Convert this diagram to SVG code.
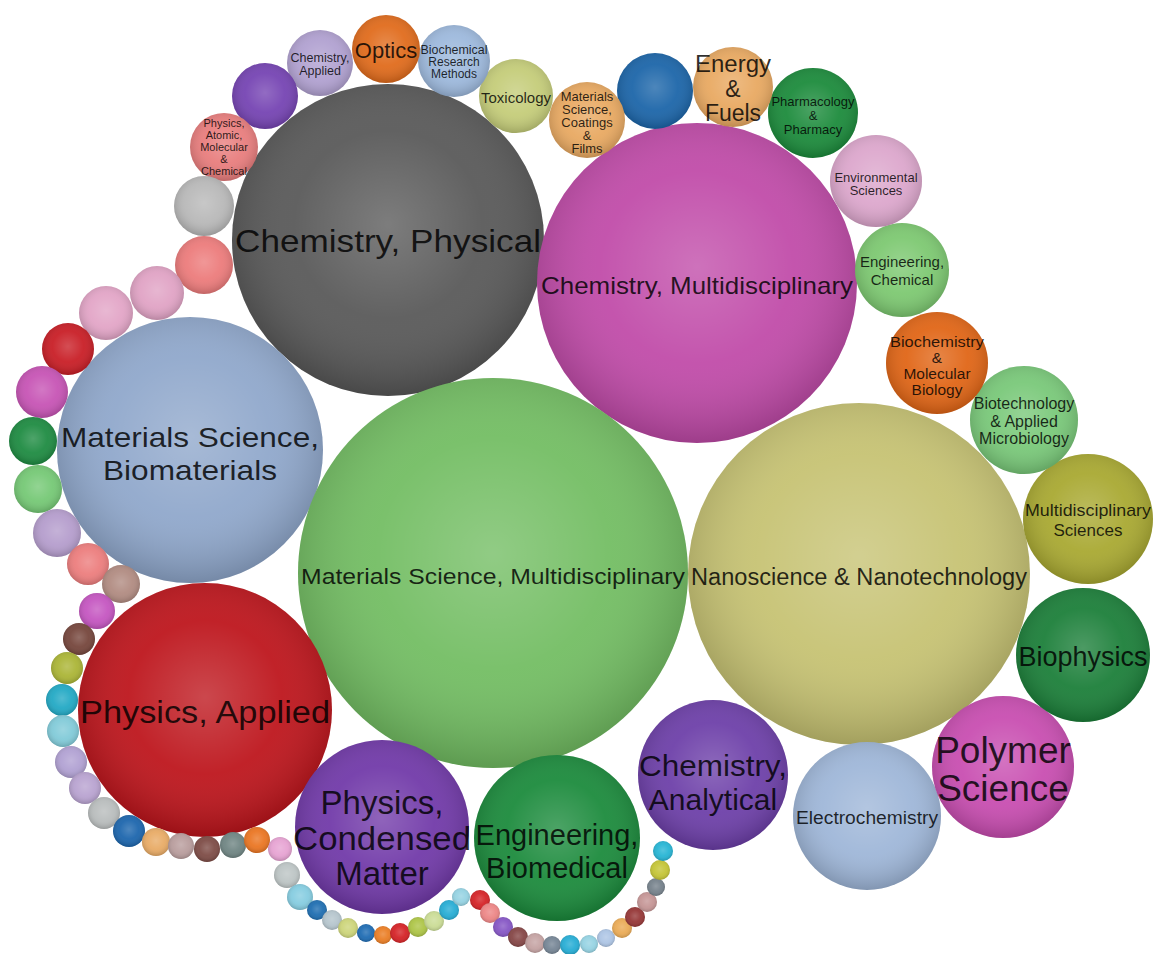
<svg xmlns="http://www.w3.org/2000/svg" width="1154" height="954" viewBox="0 0 1154 954">
<defs>
<radialGradient id="shade" cx="50%" cy="45%" r="55%">
<stop offset="0" stop-color="#ffffff" stop-opacity="0.22"/>
<stop offset="0.55" stop-color="#ffffff" stop-opacity="0.06"/>
<stop offset="1" stop-color="#000000" stop-opacity="0.18"/>
</radialGradient>
</defs>
<style>
.s{fill:url(#shade)}
text{font-family:"Liberation Sans",Arial,sans-serif;fill:#000;fill-opacity:0.82;text-anchor:middle}
</style>
<rect width="1154" height="954" fill="#ffffff"/>
<g id="bubbles">
<g id="n-chem-phys"><circle cx="388" cy="240" r="156" fill="#585858"/><circle cx="388" cy="240" r="156" class="s"/><text x="388" y="252" font-size="32" textLength="306" lengthAdjust="spacingAndGlyphs">Chemistry, Physical</text></g>
<g id="n-chem-multi"><circle cx="697" cy="283" r="160" fill="#c04aa8"/><circle cx="697" cy="283" r="160" class="s"/><text x="697" y="294" font-size="24" textLength="312" lengthAdjust="spacingAndGlyphs">Chemistry, Multidisciplinary</text></g>
<g id="n-mat-bio"><circle cx="190" cy="450" r="133" fill="#8fa7cb"/><circle cx="190" cy="450" r="133" class="s"/><text font-size="28"><tspan x="190" y="447" textLength="258" lengthAdjust="spacingAndGlyphs">Materials Science,</tspan><tspan x="190" y="480" textLength="174" lengthAdjust="spacingAndGlyphs">Biomaterials</tspan></text></g>
<g id="n-mat-multi"><circle cx="493" cy="573" r="195" fill="#72bd62"/><circle cx="493" cy="573" r="195" class="s"/><text x="493" y="584" font-size="22" textLength="384" lengthAdjust="spacingAndGlyphs">Materials Science, Multidisciplinary</text></g>
<g id="n-nano"><circle cx="859" cy="574" r="171" fill="#c6c272"/><circle cx="859" cy="574" r="171" class="s"/><text x="859" y="585" font-size="23" textLength="336" lengthAdjust="spacingAndGlyphs">Nanoscience &amp; Nanotechnology</text></g>
<g id="n-phys-app"><circle cx="205" cy="710" r="127" fill="#bd141b"/><circle cx="205" cy="710" r="127" class="s"/><text x="205" y="723" font-size="31" textLength="250" lengthAdjust="spacingAndGlyphs">Physics, Applied</text></g>
<g id="n-phys-cond"><circle cx="382" cy="827" r="87" fill="#7038a8"/><circle cx="382" cy="827" r="87" class="s"/><text font-size="33"><tspan x="382" y="814">Physics,</tspan><tspan x="382" y="850" textLength="178" lengthAdjust="spacingAndGlyphs">Condensed</tspan><tspan x="382" y="885">Matter</tspan></text></g>
<g id="n-eng-bio"><circle cx="557" cy="838" r="83" fill="#1a8a3b"/><circle cx="557" cy="838" r="83" class="s"/><text font-size="29"><tspan x="557" y="845">Engineering,</tspan><tspan x="557" y="878">Biomedical</tspan></text></g>
<g id="n-chem-anal"><circle cx="713" cy="775" r="75" fill="#6c3ea8"/><circle cx="713" cy="775" r="75" class="s"/><text font-size="30"><tspan x="713" y="776" textLength="148" lengthAdjust="spacingAndGlyphs">Chemistry,</tspan><tspan x="713" y="810">Analytical</tspan></text></g>
<g id="n-electro"><circle cx="867" cy="816" r="74" fill="#9eb6d8"/><circle cx="867" cy="816" r="74" class="s"/><text x="867" y="824" font-size="18" textLength="142" lengthAdjust="spacingAndGlyphs">Electrochemistry</text></g>
<g id="n-polymer"><circle cx="1003" cy="767" r="71" fill="#c84cb0"/><circle cx="1003" cy="767" r="71" class="s"/><text font-size="37"><tspan x="1003" y="763">Polymer</tspan><tspan x="1003" y="801">Science</tspan></text></g>
<g id="n-biophys"><circle cx="1083" cy="655" r="67" fill="#1a7e38"/><circle cx="1083" cy="655" r="67" class="s"/><text x="1083" y="666" font-size="27">Biophysics</text></g>
<g id="n-multi-sci"><circle cx="1088" cy="519" r="65" fill="#a8a830"/><circle cx="1088" cy="519" r="65" class="s"/><text font-size="17"><tspan x="1088" y="516" textLength="126" lengthAdjust="spacingAndGlyphs">Multidisciplinary</tspan><tspan x="1088" y="536">Sciences</tspan></text></g>
<g id="n-biotech"><circle cx="1024" cy="420" r="54" fill="#78c878"/><circle cx="1024" cy="420" r="54" class="s"/><text font-size="16"><tspan x="1024" y="409">Biotechnology</tspan><tspan x="1024" y="427">&amp; Applied</tspan><tspan x="1024" y="444">Microbiology</tspan></text></g>
<g id="n-biochem"><circle cx="937" cy="363" r="51" fill="#e06414"/><circle cx="937" cy="363" r="51" class="s"/><text font-size="15.5"><tspan x="937" y="347" textLength="94" lengthAdjust="spacingAndGlyphs">Biochemistry</tspan><tspan x="937" y="363">&amp;</tspan><tspan x="937" y="379">Molecular</tspan><tspan x="937" y="395">Biology</tspan></text></g>
<g id="n-eng-chem"><circle cx="902" cy="270" r="47" fill="#7cc870"/><circle cx="902" cy="270" r="47" class="s"/><text font-size="15"><tspan x="902" y="267">Engineering,</tspan><tspan x="902" y="285">Chemical</tspan></text></g>
<g id="n-env"><circle cx="876" cy="181" r="46" fill="#dca6cc"/><circle cx="876" cy="181" r="46" class="s"/><text font-size="13"><tspan x="876" y="182">Environmental</tspan><tspan x="876" y="195">Sciences</tspan></text></g>
<g id="n-pharm"><circle cx="813" cy="113" r="45" fill="#1a8a3a"/><circle cx="813" cy="113" r="45" class="s"/><text font-size="13"><tspan x="813" y="106">Pharmacology</tspan><tspan x="813" y="120">&amp;</tspan><tspan x="813" y="134">Pharmacy</tspan></text></g>
<g id="n-energy"><circle cx="733" cy="87" r="40" fill="#e8a860"/><circle cx="733" cy="87" r="40" class="s"/><text font-size="23"><tspan x="733" y="72" textLength="76" lengthAdjust="spacingAndGlyphs">Energy</tspan><tspan x="733" y="97">&amp;</tspan><tspan x="733" y="121">Fuels</tspan></text></g>
<g id="n-blue-top"><circle cx="655" cy="91" r="38" fill="#1a64a8"/><circle cx="655" cy="91" r="38" class="s"/></g>
<g id="n-coatings"><circle cx="587" cy="120" r="38" fill="#e8a860"/><circle cx="587" cy="120" r="38" class="s"/><text font-size="13"><tspan x="587" y="101">Materials</tspan><tspan x="587" y="114">Science,</tspan><tspan x="587" y="127">Coatings</tspan><tspan x="587" y="140">&amp;</tspan><tspan x="587" y="153">Films</tspan></text></g>
<g id="n-tox"><circle cx="516" cy="96" r="37" fill="#c4cc78"/><circle cx="516" cy="96" r="37" class="s"/><text x="516" y="103" font-size="15">Toxicology</text></g>
<g id="n-biochem-res"><circle cx="454" cy="61" r="36" fill="#9cb8dc"/><circle cx="454" cy="61" r="36" class="s"/><text font-size="12"><tspan x="454" y="54" textLength="67" lengthAdjust="spacingAndGlyphs">Biochemical</tspan><tspan x="454" y="66">Research</tspan><tspan x="454" y="78">Methods</tspan></text></g>
<g id="n-optics"><circle cx="386" cy="49" r="34" fill="#e06a1a"/><circle cx="386" cy="49" r="34" class="s"/><text x="386" y="58" font-size="22">Optics</text></g>
<g id="n-chem-app"><circle cx="320" cy="63" r="33" fill="#b0a0d0"/><circle cx="320" cy="63" r="33" class="s"/><text font-size="12.5"><tspan x="320" y="62">Chemistry,</tspan><tspan x="320" y="75">Applied</tspan></text></g>
<g id="n-purple-top"><circle cx="265" cy="96" r="33" fill="#7442b2"/><circle cx="265" cy="96" r="33" class="s"/></g>
<g id="n-phys-atomic"><circle cx="224" cy="147" r="34" fill="#e87c7c"/><circle cx="224" cy="147" r="34" class="s"/><text font-size="11"><tspan x="224" y="127">Physics,</tspan><tspan x="224" y="139">Atomic,</tspan><tspan x="224" y="151">Molecular</tspan><tspan x="224" y="163">&amp;</tspan><tspan x="224" y="175">Chemical</tspan></text></g>
<g id="n-gray"><circle cx="204" cy="206" r="30" fill="#b8b8b8"/><circle cx="204" cy="206" r="30" class="s"/></g>
<g id="n-coral"><circle cx="204" cy="265" r="29" fill="#ec7a7a"/><circle cx="204" cy="265" r="29" class="s"/></g>
<g id="n-s01"><circle cx="157" cy="293" r="27" fill="#e0a2c4"/><circle cx="157" cy="293" r="27" class="s"/></g>
<g id="n-s02"><circle cx="106" cy="313" r="27" fill="#e2a4c6"/><circle cx="106" cy="313" r="27" class="s"/></g>
<g id="n-s03"><circle cx="68" cy="349" r="26" fill="#c81c24"/><circle cx="68" cy="349" r="26" class="s"/></g>
<g id="n-s04"><circle cx="42" cy="392" r="26" fill="#c652b4"/><circle cx="42" cy="392" r="26" class="s"/></g>
<g id="n-s05"><circle cx="33" cy="441" r="24" fill="#1c8a40"/><circle cx="33" cy="441" r="24" class="s"/></g>
<g id="n-s06"><circle cx="38" cy="489" r="24" fill="#74c874"/><circle cx="38" cy="489" r="24" class="s"/></g>
<g id="n-s07"><circle cx="57" cy="533" r="24" fill="#b49ccc"/><circle cx="57" cy="533" r="24" class="s"/></g>
<g id="n-s08"><circle cx="88" cy="564" r="21" fill="#ec7c7c"/><circle cx="88" cy="564" r="21" class="s"/></g>
<g id="n-s09"><circle cx="121" cy="584" r="19" fill="#b08a80"/><circle cx="121" cy="584" r="19" class="s"/></g>
<g id="n-s10"><circle cx="97" cy="611" r="18" fill="#c454c0"/><circle cx="97" cy="611" r="18" class="s"/></g>
<g id="n-s11"><circle cx="79" cy="639" r="16" fill="#74443a"/><circle cx="79" cy="639" r="16" class="s"/></g>
<g id="n-s12"><circle cx="67" cy="668" r="16" fill="#aab434"/><circle cx="67" cy="668" r="16" class="s"/></g>
<g id="n-s13"><circle cx="62" cy="700" r="16" fill="#20a8c4"/><circle cx="62" cy="700" r="16" class="s"/></g>
<g id="n-s14"><circle cx="63" cy="731" r="16" fill="#80cad8"/><circle cx="63" cy="731" r="16" class="s"/></g>
<g id="n-s15"><circle cx="71" cy="762" r="16" fill="#b0a0d2"/><circle cx="71" cy="762" r="16" class="s"/></g>
<g id="n-s16"><circle cx="85" cy="788" r="16" fill="#b8a2d0"/><circle cx="85" cy="788" r="16" class="s"/></g>
<g id="n-s17"><circle cx="104" cy="813" r="16" fill="#b8bcbc"/><circle cx="104" cy="813" r="16" class="s"/></g>
<g id="n-s18"><circle cx="129" cy="831" r="16" fill="#1a64ac"/><circle cx="129" cy="831" r="16" class="s"/></g>
<g id="n-s19"><circle cx="156" cy="842" r="14" fill="#e8aa64"/><circle cx="156" cy="842" r="14" class="s"/></g>
<g id="n-s20"><circle cx="181" cy="846" r="13" fill="#b89c9c"/><circle cx="181" cy="846" r="13" class="s"/></g>
<g id="n-s21"><circle cx="207" cy="849" r="13" fill="#7c4a44"/><circle cx="207" cy="849" r="13" class="s"/></g>
<g id="n-s22"><circle cx="233" cy="845" r="13" fill="#6e8482"/><circle cx="233" cy="845" r="13" class="s"/></g>
<g id="n-s23"><circle cx="257" cy="840" r="13" fill="#ea7420"/><circle cx="257" cy="840" r="13" class="s"/></g>
<g id="n-s24"><circle cx="280" cy="849" r="12" fill="#e6a2d2"/><circle cx="280" cy="849" r="12" class="s"/></g>
<g id="n-s25"><circle cx="287" cy="875" r="13" fill="#bcc4c4"/><circle cx="287" cy="875" r="13" class="s"/></g>
<g id="n-s26"><circle cx="300" cy="897" r="13" fill="#84cce0"/><circle cx="300" cy="897" r="13" class="s"/></g>
<g id="n-s27"><circle cx="317" cy="910" r="10" fill="#1c6cb0"/><circle cx="317" cy="910" r="10" class="s"/></g>
<g id="n-s28"><circle cx="332" cy="920" r="10" fill="#b4c4cc"/><circle cx="332" cy="920" r="10" class="s"/></g>
<g id="n-s29"><circle cx="348" cy="928" r="10" fill="#ccd478"/><circle cx="348" cy="928" r="10" class="s"/></g>
<g id="n-s30"><circle cx="366" cy="933" r="9" fill="#1c6ab2"/><circle cx="366" cy="933" r="9" class="s"/></g>
<g id="n-s31"><circle cx="383" cy="935" r="9" fill="#ea7c22"/><circle cx="383" cy="935" r="9" class="s"/></g>
<g id="n-s32"><circle cx="400" cy="933" r="10" fill="#d42024"/><circle cx="400" cy="933" r="10" class="s"/></g>
<g id="n-s33"><circle cx="418" cy="927" r="10" fill="#acc444"/><circle cx="418" cy="927" r="10" class="s"/></g>
<g id="n-s34"><circle cx="434" cy="921" r="10" fill="#cadc94"/><circle cx="434" cy="921" r="10" class="s"/></g>
<g id="n-s35"><circle cx="449" cy="910" r="10" fill="#24acd4"/><circle cx="449" cy="910" r="10" class="s"/></g>
<g id="n-s36"><circle cx="461" cy="897" r="9" fill="#94d2e2"/><circle cx="461" cy="897" r="9" class="s"/></g>
<g id="n-s37"><circle cx="480" cy="900" r="10" fill="#d42024"/><circle cx="480" cy="900" r="10" class="s"/></g>
<g id="n-s38"><circle cx="490" cy="913" r="10" fill="#ec8484"/><circle cx="490" cy="913" r="10" class="s"/></g>
<g id="n-s39"><circle cx="503" cy="927" r="10" fill="#8454c4"/><circle cx="503" cy="927" r="10" class="s"/></g>
<g id="n-s40"><circle cx="518" cy="937" r="10" fill="#844444"/><circle cx="518" cy="937" r="10" class="s"/></g>
<g id="n-s41"><circle cx="535" cy="943" r="10" fill="#c4a2a2"/><circle cx="535" cy="943" r="10" class="s"/></g>
<g id="n-s42"><circle cx="552" cy="945" r="9" fill="#748494"/><circle cx="552" cy="945" r="9" class="s"/></g>
<g id="n-s43"><circle cx="570" cy="945" r="10" fill="#24acd4"/><circle cx="570" cy="945" r="10" class="s"/></g>
<g id="n-s44"><circle cx="589" cy="944" r="9" fill="#94d2e2"/><circle cx="589" cy="944" r="9" class="s"/></g>
<g id="n-s45"><circle cx="606" cy="938" r="9" fill="#acc4e4"/><circle cx="606" cy="938" r="9" class="s"/></g>
<g id="n-s46"><circle cx="622" cy="928" r="10" fill="#eaaa54"/><circle cx="622" cy="928" r="10" class="s"/></g>
<g id="n-s47"><circle cx="635" cy="917" r="10" fill="#943434"/><circle cx="635" cy="917" r="10" class="s"/></g>
<g id="n-s48"><circle cx="647" cy="902" r="10" fill="#c49494"/><circle cx="647" cy="902" r="10" class="s"/></g>
<g id="n-s49"><circle cx="656" cy="887" r="9" fill="#74808a"/><circle cx="656" cy="887" r="9" class="s"/></g>
<g id="n-s50"><circle cx="660" cy="870" r="10" fill="#c4c434"/><circle cx="660" cy="870" r="10" class="s"/></g>
<g id="n-s51"><circle cx="663" cy="851" r="10" fill="#24b4d4"/><circle cx="663" cy="851" r="10" class="s"/></g>
</g>
</svg>
